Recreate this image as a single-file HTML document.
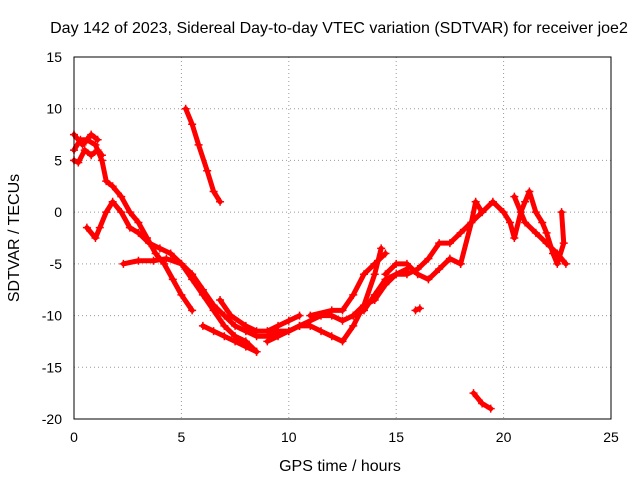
<!DOCTYPE html>
<html><head><meta charset="utf-8"><style>
body{margin:0;background:#fff}
svg text{font-family:"Liberation Sans",sans-serif;font-size:14px;fill:#000}
svg text.big{font-size:16px}
</style></head><body>
<svg id="c" width="640" height="480">
<text class="big" x="339" y="33" text-anchor="middle">Day 142 of 2023, Sidereal Day-to-day VTEC variation (SDTVAR) for receiver joe2</text>
<text class="big" x="340" y="471" text-anchor="middle">GPS time / hours</text>
<text class="big" x="19" y="238" text-anchor="middle" transform="rotate(-90 19 238)">SDTVAR / TECUs</text>
<g id="grid"></g><g id="series"></g>
<rect x="74" y="57" width="537" height="362" fill="none" stroke="#000"/>
</svg>
<script>
const xTicks=[0,5,10,15,20,25];
const yTicks=[15,10,5,0,-5,-10,-15,-20];
const trackA=[[0,6],[0.3,7],[0.6,7],[1,6.5],[1.3,5],[1.5,3],[1.8,2.5],[2.2,1.5],[2.6,0],[3,-1],[3.4,-2.5],[3.8,-4],[4.2,-5],[4.6,-6.5],[5,-8],[5.5,-9.5]];
const trackA2=[[0,5],[0.2,4.8],[0.5,6],[0.8,5.5],[1.1,6],[1.3,5.5]];
const trackA3=[[0,7.5],[0.4,6.5],[0.8,7.5],[1.1,7]];
const trackB=[[0.6,-1.5],[1,-2.5],[1.2,-1.5],[1.5,0],[1.8,1],[2.2,0],[2.6,-1.5],[3,-2],[3.5,-3],[4,-3.5],[4.5,-4],[5,-5],[5.5,-6.5],[6,-8],[6.5,-9.5],[7,-11],[7.5,-12],[8,-12.5],[8.5,-13.5]];
const trackC=[[2.3,-5],[3,-4.7],[3.7,-4.7],[4.3,-4.5],[5,-5],[5.5,-6],[6,-7.5],[6.5,-9],[7,-10],[7.5,-11],[8,-11.5],[8.5,-12],[9,-12],[9.5,-11.5],[10,-11.5],[10.5,-11],[11,-10.5],[11.5,-10],[12,-10],[12.5,-10.5],[13,-10],[13.5,-9],[14,-8.5],[14.5,-7],[15,-6],[15.5,-5.5]];
const trackD=[[6,-11],[6.5,-11.5],[7,-12],[7.5,-12.5],[8,-13],[8.5,-13.5]];
const trackE=[[6.8,-8.5],[7.3,-10],[8,-11],[8.5,-11.5],[9,-11.5],[9.5,-11],[10,-10.5],[10.5,-10]];
const trackF=[[9,-12.5],[9.5,-12],[10,-11.5],[10.5,-11],[11,-11],[11.5,-11.5],[12,-12],[12.5,-12.5],[13,-11],[13.5,-9],[14,-6],[14.3,-3.5]];
const trackG=[[11,-10],[12,-9.5],[12.5,-9.5],[13,-8],[13.5,-6],[14,-5],[14.5,-4]];
const trackH=[[13,-10],[13.5,-9.5],[14,-8],[14.5,-6.5],[15,-6],[15.5,-6],[16,-5.5],[16.5,-4.5],[17,-3],[17.5,-3],[18,-2],[18.5,-1],[19,0]];
const trackI=[[14.5,-6],[15,-5],[15.5,-5],[16,-6],[16.5,-6.5],[17,-5.5],[17.5,-4.5],[18,-5]];
const trackJ=[[18,-5],[18.5,-1],[18.7,1],[19,0],[19.5,1],[20,0],[20.3,-1],[20.5,-2.5],[20.8,0],[21,1],[21.2,2],[21.5,0],[21.8,-1],[22,-2],[22.3,-4],[22.5,-5],[22.8,-3],[22.7,0]];
const trackK=[[20.5,1.5],[21,-1],[21.5,-2],[22,-3],[22.5,-4],[22.9,-5]];
const trackL=[[5.2,10],[5.5,8.5],[5.8,6.5],[6.2,4],[6.5,2],[6.8,1]];
const trackM=[[18.6,-17.5],[19,-18.5],[19.4,-19]];
const trackN=[[15.9,-9.5],[16.1,-9.3]];
const tracks=[trackA,trackA2,trackA3,trackB,trackC,trackD,trackE,trackF,trackG,trackH,trackI,trackJ,trackK,trackL,trackM,trackN];
const X=v=>74+v*537/25, Y=v=>57+(15-v)*362/35;
const NS="http://www.w3.org/2000/svg";
const g=document.getElementById('grid'), s=document.getElementById('series');
function mk(tag,a,p){const e=document.createElementNS(NS,tag);for(const k in a)e.setAttribute(k,a[k]);p.appendChild(e);return e;}
xTicks.forEach(t=>{
 const l=mk('line',{x1:X(t),x2:X(t),y1:57,y2:419,stroke:'#999','stroke-dasharray':'1,3'},g);
 
 
 const tx=mk('text',{x:X(t),y:442,'text-anchor':'middle'},g);tx.textContent=t;
 
 
});
yTicks.forEach(t=>{
 const l=mk('line',{x1:74,x2:611,y1:Y(t),y2:Y(t),stroke:'#999','stroke-dasharray':'1,3'},g);
 
 
 const tx=mk('text',{x:62,y:Y(t)+5,'text-anchor':'end'},g);tx.textContent=t;
 
 
});
tracks.forEach(tr=>{
 const pl=mk('polyline',{points:tr.map(p=>X(p[0])+','+Y(p[1])).join(' '),fill:'none',stroke:'#f00','stroke-width':5,'stroke-linejoin':'round','stroke-linecap':'round'},s);
 
 
 tr.forEach(p=>{
  const x=X(p[0]),y=Y(p[1]);
  const m=mk('path',{d:`M${x-4},${y}H${x+4}M${x},${y-4}V${y+4}`,stroke:'#f00','stroke-width':1.5},s);
  
  
 });
});
</script>
</body></html>
